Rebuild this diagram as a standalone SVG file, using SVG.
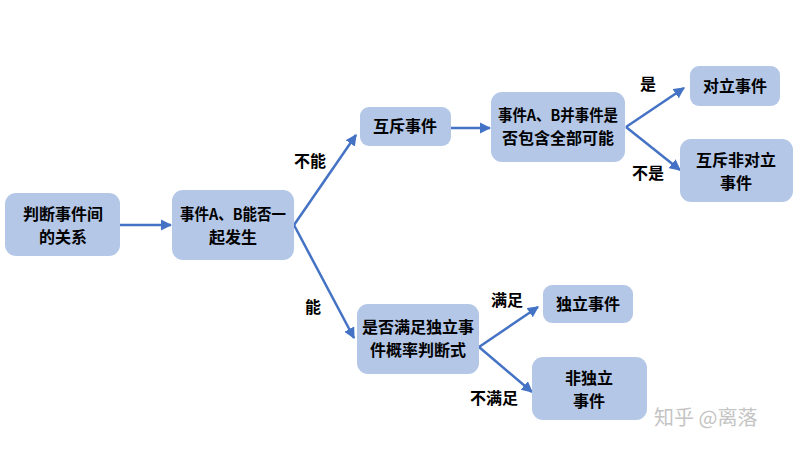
<svg xmlns="http://www.w3.org/2000/svg" width="800" height="450" viewBox="0 0 800 450">
<defs>
<style>
.box{fill:#b4c7e7;stroke:none}
.t{font-family:"Noto Sans CJK SC","Noto Sans",sans-serif;font-size:16px;font-weight:bold;fill:#000;text-anchor:middle}
.lbl{font-family:"Noto Sans CJK SC","Noto Sans",sans-serif;font-size:16px;font-weight:bold;fill:#000;text-anchor:middle}
.c{stroke:#4472c4;stroke-width:2.5;fill:none;marker-end:url(#ah)}
.wm{font-family:"Noto Sans CJK SC",sans-serif;font-size:20px;fill:#c4c4c4}
</style>
<marker id="ah" viewBox="0 0 10 10" refX="9" refY="5" markerWidth="4.5" markerHeight="4.5" orient="auto" markerUnits="strokeWidth">
<path d="M0,0 L10,5 L0,10 z" fill="#4472c4"/>
</marker>
</defs>
<rect width="800" height="450" fill="#ffffff"/>
<g id="connectors">
<line class="c" x1="120" y1="225" x2="171" y2="225"/>
<line class="c" x1="294" y1="225" x2="356" y2="135"/>
<line class="c" x1="294" y1="225" x2="354" y2="338"/>
<line class="c" x1="451" y1="128" x2="490" y2="128"/>
<line class="c" x1="626" y1="127" x2="684" y2="88"/>
<line class="c" x1="626" y1="127" x2="680" y2="170"/>
<line class="c" x1="479" y1="347" x2="538" y2="307"/>
<line class="c" x1="479" y1="347" x2="532" y2="392"/>
</g>
<g id="labels">
<text class="lbl" x="310" y="167">不能</text>
<text class="lbl" x="313" y="313">能</text>
<text class="lbl" x="648" y="90">是</text>
<text class="lbl" x="648" y="179">不是</text>
<text class="lbl" x="507" y="306">满足</text>
<text class="lbl" x="494" y="404">不满足</text>
</g>
<g id="n1"><rect class="box" x="5" y="193" width="115" height="63" rx="11"/>
<text class="t" x="63" y="220">判断事件间</text><text class="t" x="63" y="243">的关系</text></g>
<g id="n2"><rect class="box" x="172" y="190" width="122" height="70" rx="11"/>
<text class="t" x="233" y="220" textLength="106" lengthAdjust="spacingAndGlyphs">事件A、B能否一</text><text class="t" x="233" y="243">起发生</text></g>
<g id="n3"><rect class="box" x="360" y="107" width="91" height="39" rx="9"/>
<text class="t" x="405" y="132">互斥事件</text></g>
<g id="n4"><rect class="box" x="491" y="92" width="134" height="70" rx="11"/>
<text class="t" x="558" y="121" textLength="120" lengthAdjust="spacingAndGlyphs">事件A、B并事件是</text><text class="t" x="558" y="144">否包含全部可能</text></g>
<g id="n5"><rect class="box" x="690" y="66" width="90" height="40" rx="9"/>
<text class="t" x="735" y="92">对立事件</text></g>
<g id="n6"><rect class="box" x="680" y="139" width="113" height="63" rx="11"/>
<text class="t" x="736" y="166">互斥非对立</text><text class="t" x="736" y="189">事件</text></g>
<g id="n7"><rect class="box" x="357" y="304" width="122" height="70" rx="11"/>
<text class="t" x="418" y="333">是否满足独立事</text><text class="t" x="418" y="356">件概率判断式</text></g>
<g id="n8"><rect class="box" x="543" y="285" width="90" height="38" rx="9"/>
<text class="t" x="588" y="310">独立事件</text></g>
<g id="n9"><rect class="box" x="532" y="357" width="115" height="63" rx="11"/>
<text class="t" x="589" y="384">非独立</text><text class="t" x="589" y="407">事件</text></g>
<text class="wm" x="654" y="425">知乎 @离落</text>
</svg>
